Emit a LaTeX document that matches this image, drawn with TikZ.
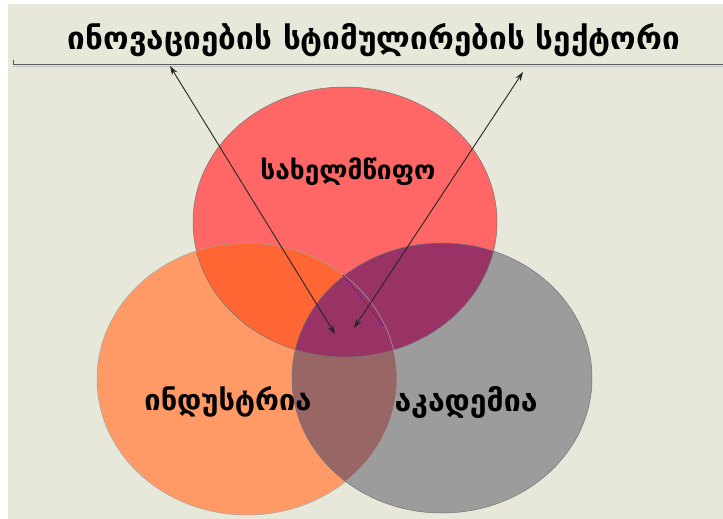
\documentclass[tikz,border=0pt]{standalone}
\usepackage{fontspec}
\usepackage{graphicx}
\setmainfont{DejaVu Sans}
\usetikzlibrary{arrows.meta}
\definecolor{bgc}{HTML}{E7E7DA}
\definecolor{redC}{HTML}{FF6666}
\definecolor{oraC}{HTML}{FF9966}
\definecolor{graC}{HTML}{9C9C9C}
\definecolor{roC}{HTML}{FF6633}
\definecolor{rgC}{HTML}{993366}
\definecolor{ogC}{HTML}{996666}
\tikzset{
  ring/.style={draw=black!55, line width=0.5pt},
  lbl/.style={inner sep=0pt, text=black},
  link/.style={draw=black!85, line width=0.9pt, {Stealth[length=9pt,width=6pt]}-{Stealth[length=9pt,width=6pt]}},
}
\begin{document}
\begin{tikzpicture}[x=1pt,y=-1pt]
\useasboundingbox (0,0) rectangle (723,519);
\fill[white] (0,0) rectangle (723,519);
\fill[bgc] (8,4) rectangle (723,519);
\coordinate (cR) at (345,222);
\coordinate (cO) at (247,379);
\coordinate (cG) at (442,378);
% base fills
\fill[oraC] (cO) ellipse [x radius=150pt, y radius=136pt];
\fill[redC] (cR) ellipse [x radius=152pt, y radius=135pt];
\fill[graC] (cG) ellipse [x radius=150pt, y radius=135pt];
\begin{scope}
  \clip (cR) ellipse [x radius=152pt, y radius=135pt];
  \fill[roC] (cO) ellipse [x radius=150pt, y radius=136pt];
\end{scope}
\begin{scope}
  \clip (cO) ellipse [x radius=150pt, y radius=136pt];
  \fill[ogC] (cG) ellipse [x radius=150pt, y radius=135pt];
\end{scope}
\begin{scope}
  \clip (cR) ellipse [x radius=152pt, y radius=135pt];
  \fill[rgC] (cG) ellipse [x radius=150pt, y radius=135pt];
\end{scope}
\draw[ring, draw=black!35] (cO) ellipse [x radius=150pt, y radius=136pt];
\draw[ring] (cR) ellipse [x radius=152pt, y radius=135pt];
\draw[ring] (cG) ellipse [x radius=150pt, y radius=135pt];
% title and rule
\node[lbl] (title) at (374,40) {\resizebox{612pt}{!}{\bfseries ინოვაციების სტიმულირების სექტორი}};
\coordinate (ruleL) at (13,60);
\coordinate (ruleA) at (13,65);
\coordinate (ruleB) at (723,65);
\draw[black!25, line width=1pt] (13,67) -- (723,67);
\draw[black!65, line width=1pt] (ruleL) -- (ruleA) -- (ruleB);
% labels
\node[lbl] (state) at (348,172) {\resizebox{175pt}{!}{\bfseries სახელმწიფო}};
\node[lbl] (ind) at (228,402) {\resizebox{167pt}{!}{\bfseries ინდუსტრია}};
\node[lbl] (acad) at (466,402) {\resizebox{143pt}{!}{\bfseries აკადემია}};
% arrows
\coordinate (a1s) at (170,66);
\coordinate (a1e) at (335,334);
\coordinate (a2s) at (523,72);
\coordinate (a2e) at (354,328);
\draw[link] (a1s) -- (a1e);
\draw[link] (a2s) -- (a2e);
\coordinate (d1) at (343,275);
\coordinate (d2) at (383,325);
\draw[blue!45!purple, dotted, line width=1pt] (d1) -- (d2);
\end{tikzpicture}
\end{document}
